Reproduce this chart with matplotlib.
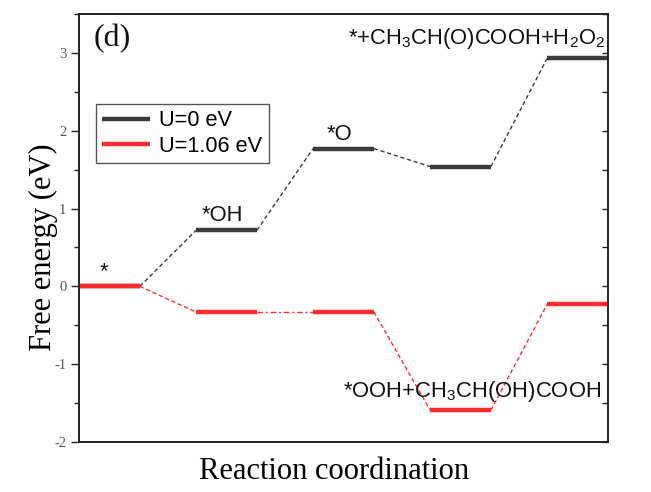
import matplotlib
matplotlib.use('Agg')
import matplotlib.pyplot as plt
from matplotlib.ticker import MultipleLocator

steps = ['*', '*OH', '*O', '*OOH+CH3CH(OH)COOH', '*+CH3CH(O)COOH+H2O2']
g_u0 = [0.0, 0.72, 1.77, 1.54, 2.93]
g_u106 = [0.0, -0.33, -0.33, -1.59, -0.23]
series_labels = ['U=0 eV', 'U=1.06 eV']

black = '#3a3a3a'
red = '#ff2b2b'
w = 0.52  # width of each level, x-unit = one step

plt.rcParams['mathtext.fontset'] = 'custom'
plt.rcParams['mathtext.rm'] = 'Liberation Sans'
plt.rcParams['axes.unicode_minus'] = False

fig = plt.figure(figsize=(6.51, 4.92), dpi=100)
ax = fig.add_axes([79/651, 1 - 442/492, 529/651, 428/492])


def draw_profile(vals, color, zorder, mid_dashes=None):
    line = None
    for i, v in enumerate(vals):
        l, = ax.plot([i, i + w], [v, v], color=color, lw=3.2,
                     solid_capstyle='butt', zorder=zorder)
        if line is None:
            line = l
        if i < len(vals) - 1:
            d = (3, 2)
            if mid_dashes is not None and i == 1:
                d = mid_dashes
            ax.plot([i + w, i + 1], [v, vals[i + 1]], color=color, lw=1.0,
                    dashes=d, zorder=zorder - 1)
    return line


h0 = draw_profile(g_u0, black, 4)
h1 = draw_profile(g_u106, red, 6, mid_dashes=(4, 2, 1.5, 2))

ax.set_xlim(0, len(steps) - 1 + w)
ax.set_ylim(-2, 3.5)
ax.set_xticks([])
ax.yaxis.set_major_locator(MultipleLocator(1))
ax.yaxis.set_minor_locator(MultipleLocator(0.5))
ax.tick_params(axis='y', which='both', left=True, right=False, direction='out',
               colors='#222222', labelcolor='#555555')
ax.tick_params(axis='y', which='major', length=5.5, width=1.0)
ax.tick_params(axis='y', which='minor', length=3.5, width=1.0)
for lab in ax.get_yticklabels():
    lab.set_family('Liberation Serif')
    lab.set_fontsize(10.5)

# inward ticks on the right spine
ax2 = ax.twinx()
ax2.set_ylim(ax.get_ylim())
ax2.yaxis.set_major_locator(MultipleLocator(1))
ax2.yaxis.set_minor_locator(MultipleLocator(0.5))
ax2.tick_params(axis='y', which='both', direction='in', length=4, width=1.0,
                labelright=False, colors='#222222')
ax2.set_xticks([])

for a in (ax, ax2):
    for s in a.spines.values():
        s.set_linewidth(1.2)
        s.set_color('#222222')

ax.set_ylabel('Free energy (eV)', family='Liberation Serif', fontsize=22)
ax.yaxis.set_label_coords(-0.04, 0.456)
ax.set_xlabel('Reaction coordination', family='Liberation Serif', fontsize=22)
ax.xaxis.set_label_coords(0.482, -0.035)

ax.text(0.062, 0.942, '(d)', transform=ax.transAxes, family='Liberation Serif',
        fontsize=23, ha='center', va='center', color='#111111')

sans = dict(family='Liberation Sans', fontsize=15.8, color='#111111')
ax.text(0.213, 0.12, '*', ha='center', va='baseline', **sans)
ax.text(1.228, 0.84, '*OH', ha='center', va='baseline', **sans)
ax.text(2.225, 1.88, '*O', ha='center', va='baseline', **sans)
ax.text(4.50, 3.11, r'*+CH$_\mathregular{3}$CH(O)COOH+H$_\mathregular{2}$O$_\mathregular{2}$',
        ha='right', va='baseline', **sans)
ax.text(4.46, -1.42, r'*OOH+CH$_\mathregular{3}$CH(OH)COOH',
        ha='right', va='baseline', zorder=10, **sans)

leg = ax.legend([h0, h1], series_labels, loc='upper left',
                bbox_to_anchor=(0.032, 0.79), borderaxespad=0,
                prop={'family': 'Liberation Sans', 'size': 15.7},
                handlelength=2.2, handletextpad=0.4, borderpad=0.3,
                labelspacing=0.2, fancybox=False, framealpha=1)
leg.get_frame().set_edgecolor('#555555')
leg.get_frame().set_linewidth(1.0)

fig.savefig('out.png', dpi=100)
